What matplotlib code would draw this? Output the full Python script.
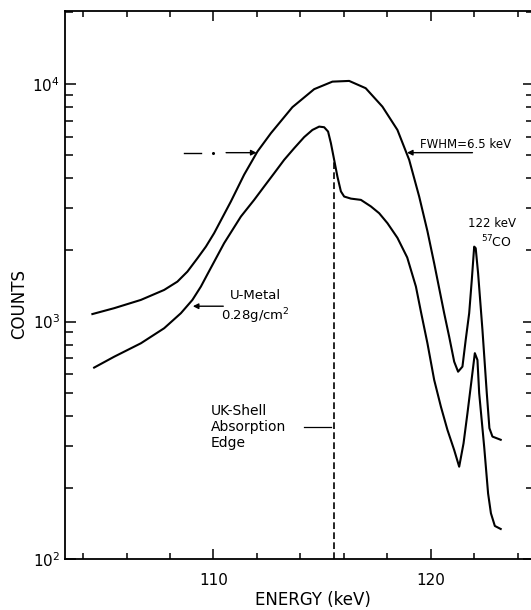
# Spectre d'absorption de l'uranium autour du seuil K
import matplotlib
matplotlib.use("Agg")
import matplotlib.pyplot as plt # matplotlib pour le graphique
from matplotlib.ticker import MultipleLocator, LogLocator, NullFormatter

# =============================================================================
# DONNEES
# =============================================================================

# Courbe du haut : source seule
energie_haut = [104.43, 105.43, 106.66, 107.73, 108.34, 108.80, 109.26, 109.65, 110.03,
                110.8, 111.41, 112.02, 112.64, 113.63, 114.63, 115.47, 116.24, 117.0,
                117.77, 118.46, 119.0, 119.46, 119.84, 120.15, 120.38, 120.61, 120.84,
                121.07, 121.25, 121.45, 121.6, 121.76, 121.88, 121.99, 122.06, 122.17,
                122.37, 122.57, 122.69, 122.83, 123.21]
coups_haut = [1075, 1138, 1233, 1358, 1472, 1622, 1845, 2066, 2355,
              3200, 4150, 5190, 6200, 7980, 9500, 10220, 10290, 9590,
              8020, 6400, 4790, 3357, 2400, 1758, 1380, 1084, 863,
              678, 615, 646, 837, 1084, 1496, 2066, 2035, 1596,
              922, 499, 356, 328, 318]

# Courbe du bas : a travers U-Metal 0.28 g/cm2
energie_bas = [104.51, 105.43, 106.66, 107.73, 108.5, 109.03, 109.42, 109.72, 110.49,
               111.26, 111.87, 112.33, 112.79, 113.25, 113.71, 114.17, 114.55, 114.86,
               115.09, 115.27, 115.40, 115.55, 115.70, 115.86, 116.01, 116.32, 116.78,
               117.24, 117.62, 118.0, 118.46, 118.91, 119.31, 119.54, 119.84, 120.15,
               120.46, 120.76, 121.07, 121.3, 121.5, 121.68, 121.87, 122.02, 122.14,
               122.22, 122.45, 122.63, 122.76, 122.94, 123.21]
coups_bas = [640, 711, 810, 937, 1084, 1233, 1403, 1580, 2137,
             2765, 3250, 3700, 4207, 4790, 5360, 5970, 6400, 6610,
             6570, 6300, 5630, 4790, 4070, 3528, 3357, 3290, 3250,
             3050, 2856, 2594, 2250, 1860, 1403, 1100, 810, 568,
             438, 350, 288, 245, 307, 411, 568, 736, 689,
             499, 297, 189, 156, 138, 134]

# Seuil K de l'uranium
seuil_k = 115.55
seuil_haut = 4700

# Demi-hauteur du pic (FWHM)
demi_hauteur = 5135
fwhm_gauche = 111.98
fwhm_droite = 118.9

# =============================================================================
# MATPLOTLIB
# =============================================================================

fig = plt.figure(figsize=(5.31, 6.10), dpi=100)
ax = fig.add_axes([0.1224, 0.0833, 0.8832, 0.899])

# Les deux spectres
ax.plot(energie_haut, coups_haut, color="black", lw=1.5, solid_joinstyle="round")
ax.plot(energie_bas, coups_bas, color="black", lw=1.5, solid_joinstyle="round")

# Ligne du seuil d'absorption
ax.plot([seuil_k, seuil_k], [100, seuil_haut], color="black", lw=1.2, dashes=(4, 2))

# Echelles
ax.set_yscale("log")
ax.set_xlim(103.17, 124.74)
ax.set_ylim(100, 20300)

ax.xaxis.set_major_locator(MultipleLocator(10))
ax.xaxis.set_minor_locator(MultipleLocator(2))
ax.yaxis.set_major_locator(LogLocator(base=10))
ax.yaxis.set_minor_locator(LogLocator(base=10, subs=range(2, 10)))
ax.yaxis.set_minor_formatter(NullFormatter())

ax.tick_params(which="both", direction="in", top=True, right=True, width=1.1, labelsize=11)
ax.tick_params(axis="x", which="major", length=7.5, pad=10)
ax.tick_params(axis="x", which="minor", length=4)
ax.tick_params(axis="y", which="major", length=8, pad=3.5)
ax.tick_params(axis="y", which="minor", length=5.5)

for cote in ax.spines.values():
    cote.set_linewidth(1.3)

# Titres des axes
fig.text(19.5 / 531, 1 - 304 / 610, "COUNTS", rotation=90, ha="center", va="center", fontsize=12)
fig.text(313 / 531, 1 - 609 / 610, "ENERGY (keV)", ha="center", va="bottom", fontsize=12)

# Fleches de la largeur a mi-hauteur
fleche = dict(arrowstyle="-|>", color="black", lw=1.0, mutation_scale=8, shrinkA=0, shrinkB=0)
ax.plot([108.64, 109.42], [demi_hauteur, demi_hauteur], color="black", lw=1.0)
ax.plot([110.0], [demi_hauteur], marker="o", ms=1.2, color="black")
ax.annotate("", xy=(fwhm_gauche, demi_hauteur), xytext=(110.58, demi_hauteur), arrowprops=fleche)
ax.annotate("", xy=(fwhm_droite, demi_hauteur), xytext=(121.91, demi_hauteur), arrowprops=fleche)
ax.text(119.5, 5395, "FWHM=6.5 keV", ha="left", va="baseline", fontsize=8.5)

# Annotation U-Metal
ax.annotate("", xy=(109.05, 1160), xytext=(110.45, 1160), arrowprops=fleche)
ax.text(111.95, 1146, "U-Metal\n0.28g/cm$^2$", ha="center", va="center", fontsize=9.5,
        linespacing=1.25, multialignment="center")

# Annotation du pic a 122 keV
ax.text(122.79, 2575, "122 keV", ha="center", va="center", fontsize=8.5)
ax.text(123.03, 2153, "$^{57}$CO", ha="center", va="center", fontsize=9)

# Annotation du seuil K
ax.text(109.88, 359, "UK-Shell\nAbsorption\nEdge", ha="left", va="center", fontsize=10,
        linespacing=1.2)
ax.plot([114.17, 115.4], [359, 359], color="black", lw=0.9)

fig.savefig("out.png", dpi=100)
